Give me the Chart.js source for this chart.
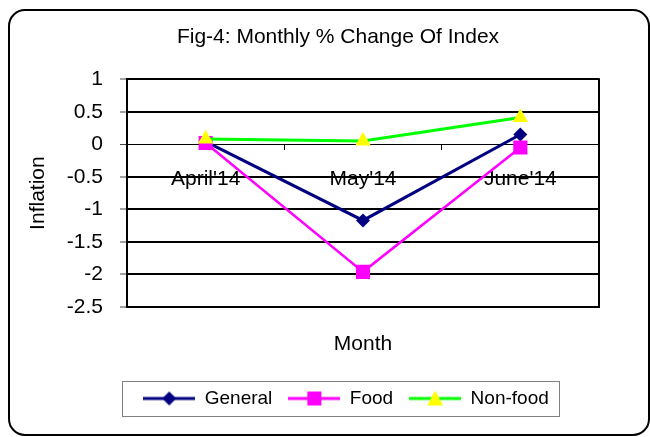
<!DOCTYPE html>
<html>
<head>
<meta charset="utf-8">
<script src="https://cdn.jsdelivr.net/npm/chart.js@4/dist/chart.umd.min.js"></script>
<style>
  html, body { margin: 0; padding: 0; background: #fff; }
  canvas { display: block; }
</style>
</head>
<body>
<canvas id="chart" width="650" height="437"></canvas>
<script>
const months = ["April'14", "May'14", "June'14"];
const general = [0.04, -1.17, 0.15];
const food = [0.02, -1.96, -0.05];
const nonFood = [0.08, 0.05, 0.41];
const yTicks = { min: -2.5, max: 1, step: 0.5 };

const FONT = "'Liberation Sans', Arial, sans-serif";
Chart.defaults.font.family = FONT;
Chart.defaults.color = '#000';

// little line+marker pictures for the legend, like excel does
function legendIcon(lineColor, markerColor, shape) {
  const c = document.createElement('canvas');
  c.width = 52;
  c.height = 16;
  const ctx = c.getContext('2d');
  ctx.strokeStyle = lineColor;
  ctx.lineWidth = 3;
  ctx.beginPath();
  ctx.moveTo(0, 8);
  ctx.lineTo(52, 8);
  ctx.stroke();
  ctx.fillStyle = markerColor;
  ctx.beginPath();
  if (shape === 'diamond') {
    ctx.moveTo(26, 1); ctx.lineTo(33, 8); ctx.lineTo(26, 15); ctx.lineTo(19, 8);
  } else if (shape === 'square') {
    ctx.rect(19, 1, 14, 14);
  } else {
    ctx.moveTo(26, 0); ctx.lineTo(34, 15); ctx.lineTo(18, 15);
  }
  ctx.closePath();
  ctx.fill();
  return c;
}
const icons = [
  legendIcon('#000080', '#000080', 'diamond'),
  legendIcon('#FF00FF', '#FF00FF', 'square'),
  legendIcon('#00FF00', '#FFFF00', 'triangle')
];

const frames = {
  id: 'frames',
  afterLayout(chart) {
    // excel has the legend a bit right of centre
    chart.legend.left += 8;
    chart.legend.right += 8;
  },
  beforeDraw(chart) {
    const ctx = chart.ctx;
    ctx.save();
    ctx.fillStyle = '#fff';
    ctx.fillRect(0, 0, chart.width, chart.height);
    ctx.strokeStyle = '#000';
    ctx.lineWidth = 2;
    ctx.beginPath();
    ctx.roundRect(9, 10, 640, 425, 16);
    ctx.stroke();
    ctx.restore();
  },
  afterDraw(chart) {
    const ctx = chart.ctx;
    const a = chart.chartArea;
    ctx.save();
    ctx.strokeStyle = '#000';
    ctx.lineWidth = 2;
    ctx.beginPath();
    ctx.moveTo(a.right, a.top - 1);
    ctx.lineTo(a.right, a.bottom + 1);
    ctx.stroke();
    // box round the legend
    const boxes = chart.legend.legendHitBoxes;
    if (boxes && boxes.length) {
      const first = boxes[0];
      const last = boxes[boxes.length - 1];
      const cy = first.top + first.height / 2;
      const x0 = Math.round(first.left - 21);
      const x1 = Math.round(last.left + last.width + 10);
      ctx.strokeStyle = '#808080';
      ctx.lineWidth = 1;
      ctx.strokeRect(x0 + 0.5, Math.round(cy - 17.5) + 0.5, x1 - x0, 35);
    }
    ctx.restore();
  }
};

const data = {
  labels: months,
  datasets: [
    {
      label: 'General',
      data: general,
      order: 3,
      borderColor: '#000080',
      backgroundColor: '#000080',
      borderWidth: 3,
      pointStyle: 'rectRot',
      pointRadius: 7,
      pointBorderWidth: 0
    },
    {
      label: 'Food',
      data: food,
      order: 2,
      borderColor: '#FF00FF',
      backgroundColor: '#FF00FF',
      borderWidth: 2.5,
      pointStyle: 'rect',
      pointRadius: 10,
      pointBorderWidth: 0
    },
    {
      label: 'Non-food',
      data: nonFood,
      order: 1,
      borderColor: '#00FF00',
      backgroundColor: '#FFFF00',
      pointBorderColor: '#FFFF00',
      borderWidth: 3,
      pointStyle: 'triangle',
      pointRadius: 9,
      pointBorderWidth: 0
    }
  ]
};

const config = {
  type: 'line',
  data,
  plugins: [frames],
  options: {
    responsive: false,
    animation: false,
    layout: { padding: { top: 18, left: 26, right: 0, bottom: 19 } },
    plugins: {
      title: {
        display: true,
        text: 'Fig-4: Monthly % Change Of Index',
        color: '#000',
        font: { size: 21, weight: 'normal' },
        padding: { top: 7, bottom: 29 }
      },
      legend: {
        position: 'bottom',
        labels: {
          color: '#000',
          font: { size: 19 },
          usePointStyle: true,
          pointStyleWidth: 52,
          boxHeight: 16,
          padding: 16,
          sort: (a, b) => a.datasetIndex - b.datasetIndex,
          generateLabels(chart) {
            const items = Chart.defaults.plugins.legend.labels.generateLabels(chart);
            items.forEach((it) => { it.pointStyle = icons[it.datasetIndex]; });
            return items;
          }
        }
      },
      tooltip: { enabled: false }
    },
    scales: {
      x: {
        type: 'category',
        position: { y: 0 },
        offset: true,
        grid: {
          offset: true,
          drawOnChartArea: false,
          drawTicks: true,
          tickLength: 5,
          color: '#000',
          tickColor: '#000'
        },
        border: { display: true, color: '#000', width: 1 },
        ticks: { color: '#000', font: { size: 21 }, padding: 17, maxRotation: 0 }
      },
      x2: {
        type: 'category',
        position: 'bottom',
        offset: true,
        grid: { display: false, drawTicks: false },
        border: { display: false },
        ticks: { display: false },
        title: {
          display: true,
          text: 'Month',
          color: '#000',
          font: { size: 21 },
          padding: { top: 24.4, bottom: 16.4 }
        }
      },
      y: {
        min: yTicks.min,
        max: yTicks.max,
        afterFit(scale) { scale.width = 101; },
        ticks: {
          stepSize: yTicks.step,
          color: '#000',
          font: { size: 21 },
          padding: 17,
          callback: (v) => String(v)
        },
        grid: {
          color: '#000',
          lineWidth: (ctx) => (ctx.tick && ctx.tick.value === 0 ? 1 : 2),
          tickLength: 7,
          tickColor: '#444',
          tickWidth: 1
        },
        border: { display: true, color: '#000', width: 2 },
        title: {
          display: true,
          text: 'Inflation',
          color: '#000',
          font: { size: 21 },
          padding: { top: 0, bottom: 4 }
        }
      },
      yRight: {
        position: 'right',
        display: true,
        afterFit(scale) { scale.width = 51; },
        grid: { display: false },
        border: { display: false },
        ticks: { display: false }
      }
    }
  }
};

const lineChart = new Chart(document.getElementById('chart'), config);
</script>
</body>
</html>
